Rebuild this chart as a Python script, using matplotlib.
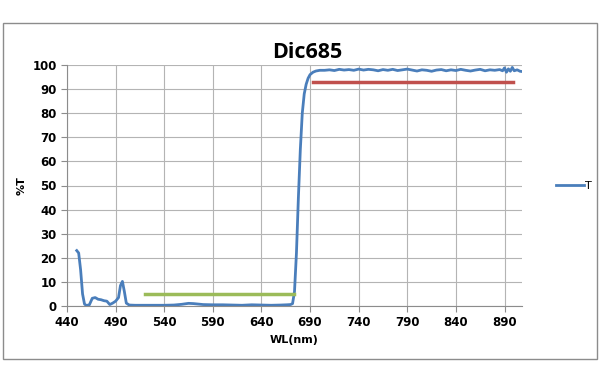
import numpy as np
import matplotlib.pyplot as plt
from matplotlib.patches import Rectangle

# transmission curve
wl = [450, 452, 454, 456, 458, 460, 463, 466, 469, 472, 475, 478, 481, 484, 487,
      490, 493, 495, 497, 499, 501, 504, 510, 520, 530, 540, 550, 558, 565, 570,
      580, 590, 600, 610, 620, 630, 640, 650, 660, 666, 670, 672, 674, 676, 678,
      680, 682, 684, 686, 688, 690, 693, 696, 700, 705, 710, 715, 720, 725, 730,
      735, 740, 745, 750, 755, 760, 765, 770, 775, 780, 785, 790, 795, 800, 805,
      810, 815, 820, 825, 830, 835, 840, 845, 850, 855, 860, 865, 870, 875, 880,
      885, 888, 890, 892, 894, 896, 898, 900, 903, 906, 908]
trans = [23, 22, 15, 5, 0.8, 0.2, 0.5, 3.2, 3.5, 2.8, 2.6, 2.2, 2.0, 0.6, 1.2,
         2.0, 3.5, 8.5, 10.2, 6.0, 1.2, 0.4, 0.3, 0.3, 0.3, 0.3, 0.4, 0.7, 1.1, 1.0,
         0.6, 0.5, 0.5, 0.4, 0.3, 0.5, 0.4, 0.3, 0.4, 0.5, 0.6, 1.0, 6, 22, 45,
         65, 80, 88, 92, 94.5, 96, 97.0, 97.5, 97.8, 97.8, 98.0, 97.7, 98.2, 97.9, 98.1,
         97.8, 98.3, 97.9, 98.2, 98.0, 97.6, 98.1, 97.8, 98.2, 97.7, 98.0, 98.3, 97.9, 97.5, 98.0,
         97.8, 97.4, 97.9, 98.1, 97.6, 98.0, 97.7, 98.2, 97.8, 97.5, 97.9, 98.2, 97.6, 98.0, 97.8,
         98.1, 97.6, 98.8, 97.0, 98.4, 97.4, 99.0, 97.6, 98.0, 97.4, 97.3]

green_x = [520, 673]
green_y = [5, 5]
red_x = [693, 899]
red_y = [93, 93]

xticks = [440, 490, 540, 590, 640, 690, 740, 790, 840, 890]
yticks = list(range(0, 101, 10))

fig = plt.figure(figsize=(6, 3.83), dpi=100)
fig.patches.append(Rectangle((3/600, 1 - 359/383), 594/600, 336/383,
                             transform=fig.transFigure, fill=False,
                             edgecolor='#8c8c8c', linewidth=1))
ax = fig.add_axes([67/600, 1 - 306/383, 455/600, 241/383])

line, = ax.plot(wl, trans, color='#4a7ebb', linewidth=2.0, label='T')
ax.plot(green_x, green_y, color='#9bbb59', linewidth=2.5)
ax.plot(red_x, red_y, color='#c0504d', linewidth=2.5)

ax.set_xlim(440, 908)
ax.set_ylim(0, 100)
ax.set_xticks(xticks)
ax.set_yticks(yticks)
ax.grid(True, color='#b4b4b4', linewidth=0.8)
ax.set_axisbelow(True)
for s in ['top', 'right']:
    ax.spines[s].set_visible(False)
for s in ['left', 'bottom']:
    ax.spines[s].set_color('#8c8c8c')
ax.tick_params(colors='#8c8c8c', labelcolor='black', length=4, width=0.8)
for lab in ax.get_xticklabels() + ax.get_yticklabels():
    lab.set_fontweight('bold')
    lab.set_fontsize(8.5)

fig.text(307/600, 1 - 58/383, 'Dic685', fontsize=15.5, fontweight='bold',
         family=['Open Sans', 'DejaVu Sans'], ha='center', va='baseline')
ax.set_xlabel('WL(nm)', fontsize=8, fontweight='bold')
ax.set_ylabel('%T', fontsize=8, fontweight='bold')

fig.legend(handles=[line], loc='center left', bbox_to_anchor=(0.91, 1 - 186/383),
           frameon=False, fontsize=8, handlelength=2.5, handletextpad=0.1)

fig.savefig('out.png', dpi=100)
